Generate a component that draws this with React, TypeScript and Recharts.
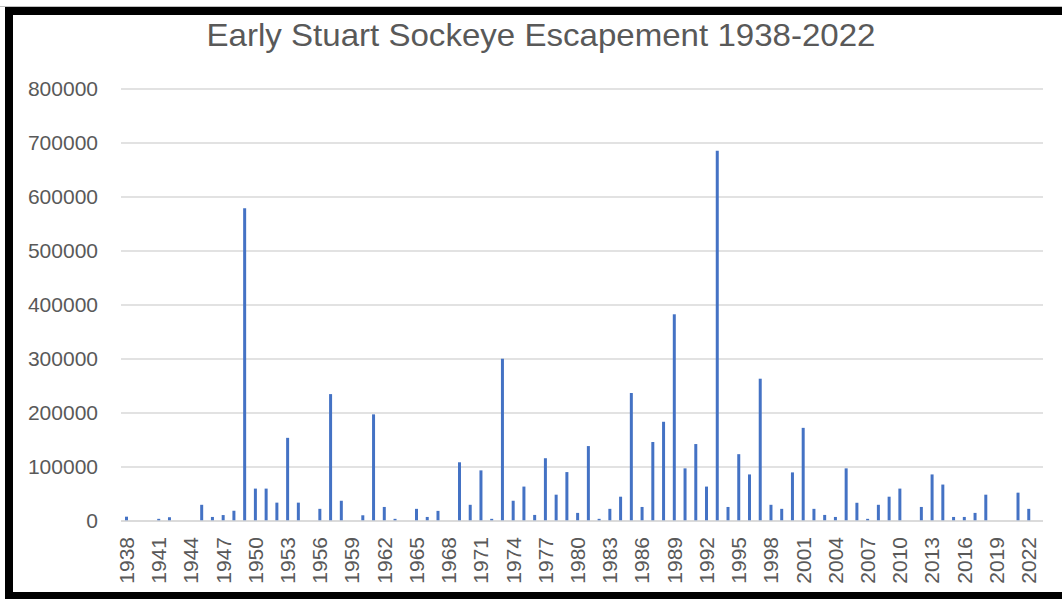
import { Bar, BarChart, CartesianGrid, XAxis, YAxis } from "recharts";

const years = [
    "1938", "1939", "1940", "1941", "1942", "1943", "1944", "1945", "1946", "1947",
    "1948", "1949", "1950", "1951", "1952", "1953", "1954", "1955", "1956", "1957",
    "1958", "1959", "1960", "1961", "1962", "1963", "1964", "1965", "1966", "1967",
    "1968", "1969", "1970", "1971", "1972", "1973", "1974", "1975", "1976", "1977",
    "1978", "1979", "1980", "1981", "1982", "1983", "1984", "1985", "1986", "1987",
    "1988", "1989", "1990", "1991", "1992", "1993", "1994", "1995", "1996", "1997",
    "1998", "1999", "2000", "2001", "2002", "2003", "2004", "2005", "2006", "2007",
    "2008", "2009", "2010", "2011", "2012", "2013", "2014", "2015", "2016", "2017",
    "2018", "2019", "2020", "2021", "2022",
];

const escapement = [
    8000, 0, 0, 4000, 7000, 0, 0, 30000, 7500, 11000,
    19000, 579000, 60000, 60000, 34000, 154000, 34000, 0, 22500, 235000,
    37500, 0, 10600, 197500, 26000, 4000, 0, 22500, 7500, 18750,
    0, 108750, 30000, 93750, 4000, 300500, 37500, 63750, 11250, 116250,
    48750, 90600, 15000, 138750, 4000, 22500, 45000, 237000, 26000, 146250,
    183750, 382800, 97500, 142500, 63750, 685700, 26000, 123750, 86250, 263500,
    30000, 22500, 90000, 172500, 22500, 11250, 7500, 97500, 33750, 4000,
    30000, 45000, 60000, 0, 26000, 86250, 67500, 7500, 7500, 15000,
    48750, 0, 0, 52500, 22500,
];

const yTicks = [0, 100000, 200000, 300000, 400000, 500000, 600000, 700000, 800000];

const data = years.map((year, i) => ({ year, value: escapement[i] }));

const FONT = "'Liberation Sans', Arial, sans-serif";
const TEXT = "#595959";

function YearTick({ x, y, payload }: any) {
    const ty = y + 8;
    return (
        <text
            x={x}
            y={ty}
            transform={`rotate(-90 ${x} ${ty})`}
            textAnchor="end"
            dominantBaseline="central"
            fill={TEXT}
            fontSize={21}
            fontFamily={FONT}
        >
            {payload.value}
        </text>
    );
}

export default function App() {
    return (
        <div style={{ position: "absolute", left: 0, top: 0, width: 1062, height: 599, background: "#fff", overflow: "hidden" }}>
            {/* screenshot frame */}
            <div style={{ position: "absolute", left: 0, top: 6, width: 1062, height: 1, background: "#bfbfbf" }} />
            <div style={{ position: "absolute", left: 5, top: 7, width: 1057, height: 8, background: "#000" }} />
            <div style={{ position: "absolute", left: 5, top: 7, width: 8, height: 592, background: "#000" }} />
            <div style={{ position: "absolute", left: 5, top: 592, width: 1057, height: 7, background: "#000" }} />

            <svg style={{ position: "absolute", left: 0, top: 0 }} width={1062} height={80}>
                <text
                    x={541}
                    y={46}
                    textAnchor="middle"
                    fill={TEXT}
                    fontSize={32}
                    fontFamily={FONT}
                    textLength={669}
                    lengthAdjust="spacingAndGlyphs"
                >
                    Early Stuart Sockeye Escapement 1938-2022
                </text>
            </svg>

            <div style={{ position: "absolute", left: 0, top: 0 }}>
                <BarChart
                    width={1062}
                    height={599}
                    data={data}
                    margin={{ top: 89, right: 19, bottom: 0, left: 0 }}
                    barSize={3}
                >
                    <CartesianGrid vertical={false} stroke="#d9d9d9" strokeWidth={1.5} />
                    <XAxis
                        dataKey="year"
                        interval={2}
                        height={78}
                        padding={{ left: 0, right: 9 }}
                        tickLine={false}
                        axisLine={{ stroke: "#d9d9d9", strokeWidth: 1.5 }}
                        tick={<YearTick />}
                    />
                    <YAxis
                        width={121}
                        domain={[0, 800000]}
                        ticks={yTicks}
                        axisLine={false}
                        tickLine={false}
                        tickSize={6}
                        tickMargin={17}
                        tick={{ fill: TEXT, fontSize: 21, fontFamily: FONT }}
                    />
                    <Bar dataKey="value" fill="#4472c4" isAnimationActive={false} />
                </BarChart>
            </div>
        </div>
    );
}
